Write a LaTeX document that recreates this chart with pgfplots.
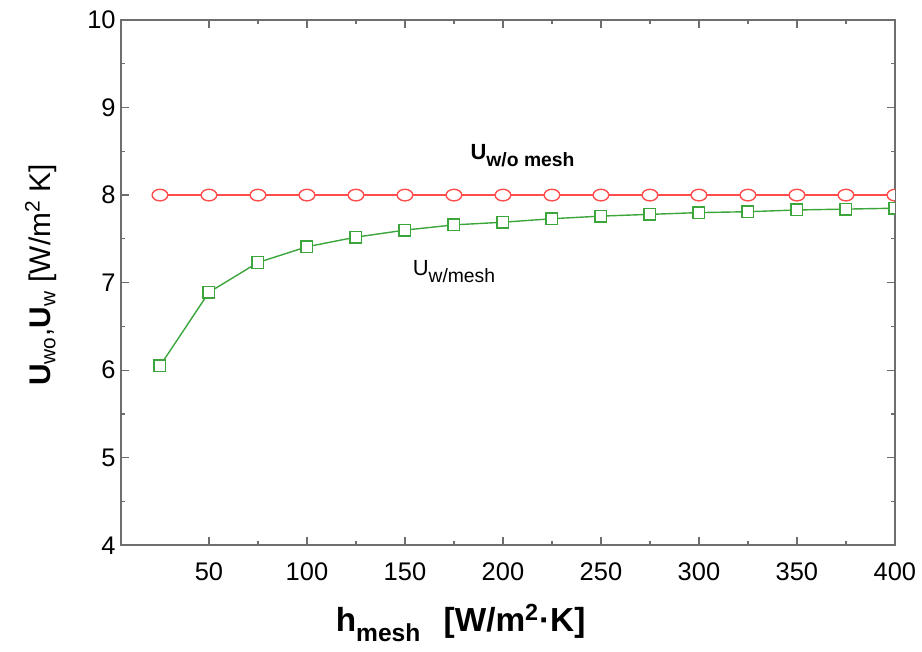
\documentclass[border=0pt]{standalone}
\usepackage{fontspec}
\setmainfont{Liberation Sans}
\usepackage{pgfplots}
\pgfplotsset{compat=1.18}
\definecolor{meshred}{HTML}{FF4D4D}
\definecolor{meshgreen}{HTML}{3CA63C}
\definecolor{axisgray}{HTML}{6E6E6E}
\begin{document}
\begin{tikzpicture}
\begin{axis}[
  scale only axis,
  width=15.5cm, height=10.52cm,
  xmin=5, xmax=400, ymin=4, ymax=10,
  xtick={50,100,...,400}, ytick={4,5,...,10},
  minor x tick num=1, minor y tick num=1,
  tick align=inside,
  major tick length=0.16cm, minor tick length=0.08cm,
  axis line style={draw=axisgray, line width=1.1pt},
  tick style={draw=axisgray, line width=0.7pt},
  clip marker paths=true,
  /pgf/number format/assume math mode=true,
  tick label style={font=\fontsize{14.5}{17}\selectfont},
  xticklabel style={yshift=-0.22cm},
  yticklabel style={xshift=0.02cm},
  xlabel={h\raisebox{-0.3em}{\fontsize{14}{17}\selectfont mesh}\hspace{0.7em}[W/m\textsuperscript{2}·K]},
  xlabel style={at={(axis description cs:0.439,-0.148)}, anchor=center,
    font=\bfseries\fontsize{19}{23}\selectfont},
  ylabel={\textbf{U}\textsubscript{wo},\textbf{U}\textsubscript{w} [W/m\textsuperscript{2} K]},
  ylabel style={at={(axis description cs:-0.103,0.515)}, anchor=center,
    font=\fontsize{17}{21}\selectfont},
]
% U without mesh
\addplot[color=meshred, line width=0.8pt, mark=*,
  mark options={xscale=1.35, line width=0.8pt, mark size=3.3pt, draw=meshred, fill=white}]
  coordinates {
    (25,8.0) (50,8.0) (75,8.0) (100,8.0) (125,8.0) (150,8.0) (175,8.0) (200,8.0)
    (225,8.0) (250,8.0) (275,8.0) (300,8.0) (325,8.0) (350,8.0) (375,8.0) (400,8.0)
  };
% U with mesh
\addplot[color=meshgreen, line width=0.8pt, mark=square*,
  mark options={line width=0.8pt, mark size=3.3pt, draw=meshgreen, fill=white}]
  coordinates {
    (25,6.05) (50,6.89) (75,7.23) (100,7.41) (125,7.52) (150,7.60) (175,7.66) (200,7.69)
    (225,7.73) (250,7.76) (275,7.78) (300,7.80) (325,7.81) (350,7.83) (375,7.84) (400,7.85)
  };
\node[font=\bfseries\fontsize{12.5}{15}\selectfont] at (axis cs:210,8.45)
  {U\raisebox{-0.3em}{\fontsize{11}{13}\selectfont w/o mesh}};
\node[font=\fontsize{12.5}{15}\selectfont] at (axis cs:175,7.13)
  {U\raisebox{-0.3em}{\fontsize{11}{13}\selectfont w/mesh}};
\coordinate (bl) at (rel axis cs:-0.156,-0.2015);
\coordinate (tr) at (rel axis cs:1.0335,1.038);
\end{axis}
\path (bl) rectangle (tr);
\end{tikzpicture}
\end{document}
